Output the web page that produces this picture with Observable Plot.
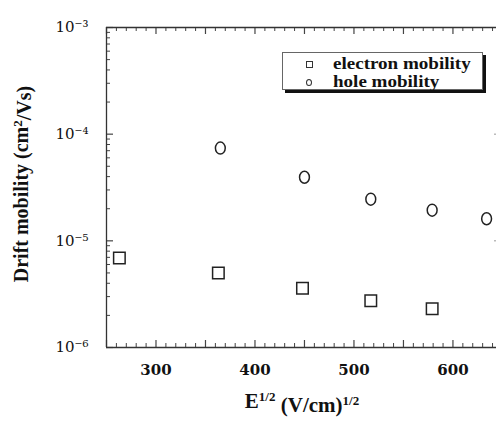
<!DOCTYPE html>
<html>
<head>
<meta charset="utf-8">
<script src="https://cdn.jsdelivr.net/npm/d3@7"></script>
<script src="https://cdn.jsdelivr.net/npm/@observablehq/plot@0.6"></script>
<style>
  html, body { margin: 0; padding: 0; background: #fff; }
  #chart { position: relative; width: 496px; height: 423px; overflow: hidden; }
  .legend {
    position: absolute; left: 282px; top: 52px; width: 199px; height: 36px;
    border: 1px solid #666; box-shadow: 3px 3px 0 #111; background: #fff;
    font: bold 16px "Liberation Serif", serif; color: #111;
  }
  .legend .row { position: absolute; left: 0; width: 100%; height: 18px; line-height: 18px; white-space: nowrap; }
  .legend .sym { position: absolute; box-sizing: border-box; border: 1.2px solid #333; }
  .legend .sq { width: 7px; height: 7px; }
  .legend .ci { width: 6px; height: 7px; border-radius: 50%; }
  .legend .lab { position: absolute; left: 50px; top: 0; display: inline-block; transform: scaleX(1.19); transform-origin: 0 50%; }
</style>
</head>
<body>
<div id="chart"></div>
<script>
// Drift mobility versus square root of the applied field
const fieldElectron = [263, 363, 448, 517, 579];
const mobilityElectron = [6.9e-6, 5.0e-6, 3.6e-6, 2.74e-6, 2.31e-6];
const fieldHole = [365, 450, 517, 579, 634];
const mobilityHole = [7.4e-5, 3.95e-5, 2.46e-5, 1.94e-5, 1.61e-5];
const seriesNames = ["electron mobility", "hole mobility"];

// Axis ticks
const xLabels = [300, 400, 500, 600];
const xMajor = [250, 300, 350, 400, 450, 500, 550, 600];
const xMinor = d3.range(250, 645, 10).filter(v => v % 50 !== 0);
const yDecades = [1e-6, 1e-5, 1e-4, 1e-3];
const yMinor = [1e-6, 1e-5, 1e-4].flatMap(d => [2, 3, 4, 5, 6, 7, 8, 9].map(m => m * d));

const electrons = fieldElectron.map((x, i) => ({x, y: mobilityElectron[i]}));
const holes = fieldHole.map((x, i) => ({x, y: mobilityHole[i]}));

const supMap = {"-": "\u207B", "0": "\u2070", "1": "\u00B9", "2": "\u00B2", "3": "\u00B3",
  "4": "\u2074", "5": "\u2075", "6": "\u2076", "7": "\u2077", "8": "\u2078", "9": "\u2079"};
const pow10 = d => "10" + String(Math.round(Math.log10(d))).split("").map(c => supMap[c]).join("");

// slightly tall open ellipse for the hole markers
const ellipse = {
  draw(ctx, size) {
    const ry = Math.sqrt(size / Math.PI), rx = ry * 0.82, k = 0.5523;
    ctx.moveTo(rx, 0);
    ctx.bezierCurveTo(rx, ry * k, rx * k, ry, 0, ry);
    ctx.bezierCurveTo(-rx * k, ry, -rx, ry * k, -rx, 0);
    ctx.bezierCurveTo(-rx, -ry * k, -rx * k, -ry, 0, -ry);
    ctx.bezierCurveTo(rx * k, -ry, rx, -ry * k, rx, 0);
    ctx.closePath();
  }
};

const W = 496, H = 423, ML = 106, MR = 0, MT = 27, MB = 76;
const innerW = W - ML - MR, innerH = H - MT - MB;
const tickColor = "#444";

const plot = Plot.plot({
  width: W, height: H,
  marginLeft: ML, marginRight: MR, marginTop: MT, marginBottom: MB,
  style: {background: "#fff", fontFamily: "DejaVu Serif", color: "#111"},
  x: {type: "linear", domain: [250, 644]},
  y: {type: "log", domain: [1e-6, 1e-3]},
  marks: [
    // inward ticks, bottom and top
    Plot.tickX(xMinor, {insetTop: innerH - 4, stroke: tickColor, strokeWidth: 1}),
    Plot.tickX(xMajor, {insetTop: innerH - 7, stroke: tickColor, strokeWidth: 1.2}),
    Plot.tickX(xMinor, {insetBottom: innerH - 4, stroke: tickColor, strokeWidth: 1}),
    Plot.tickX(xMajor, {insetBottom: innerH - 7, stroke: tickColor, strokeWidth: 1.2}),
    // inward ticks, left; stubs of the right-hand axis at the clipped edge
    Plot.tickY(yMinor, {insetRight: innerW - 4, stroke: tickColor, strokeWidth: 1}),
    Plot.tickY(yDecades, {insetRight: innerW - 7, stroke: tickColor, strokeWidth: 1.2}),
    Plot.tickY(yDecades, {insetLeft: innerW - 2, stroke: "#999", strokeWidth: 1}),
    // frame lines
    Plot.ruleX([250], {stroke: "#333", strokeWidth: 1.3}),
    Plot.ruleY([1e-6, 1e-3], {stroke: "#333", strokeWidth: 1.3}),
    Plot.axisX(xLabels, {tickSize: 0, tickPadding: 17, label: null, fontSize: 15, fontWeight: "bold", fontFamily: "DejaVu Serif"}),
    Plot.axisY(yDecades, {tickSize: 0, tickPadding: 18, label: null, tickFormat: pow10, fontSize: 15, fontFamily: "DejaVu Serif"}),
    Plot.dot(electrons, {x: "x", y: "y", symbol: "square", r: 6.5, stroke: "#222", strokeWidth: 1.5, fill: "none"}),
    Plot.dot(holes, {x: "x", y: "y", symbol: ellipse, r: 6, stroke: "#222", strokeWidth: 1.5, fill: "none"})
  ]
});

const chart = document.getElementById("chart");
chart.appendChild(plot);

// axis titles with superscripts
const svg = d3.select(plot);
const yTitle = svg.append("text")
  .attr("transform", `translate(28,${MT + innerH / 2 - 3}) rotate(-90)`)
  .attr("text-anchor", "middle")
  .attr("fill", "#111")
  .style("font", "bold 20px 'Liberation Serif', serif");
yTitle.append("tspan").text("Drift mobility (cm");
yTitle.append("tspan").attr("dy", "-0.45em").style("font-size", "13px").text("2");
yTitle.append("tspan").attr("dy", "0.45em").text("/Vs)");

const xTitle = svg.append("text")
  .attr("x", 302).attr("y", 408)
  .attr("text-anchor", "middle")
  .attr("fill", "#111")
  .style("font", "bold 21px 'Liberation Serif', serif");
xTitle.append("tspan").text("E");
xTitle.append("tspan").attr("dy", "-0.55em").style("font-size", "13px").text("1/2");
xTitle.append("tspan").attr("dy", "0.55em").text(" (V/cm)");
xTitle.append("tspan").attr("dy", "-0.55em").style("font-size", "13px").text("1/2");

// legend box
const legend = document.createElement("div");
legend.className = "legend";
seriesNames.forEach((name, i) => {
  const row = document.createElement("div");
  row.className = "row";
  row.style.top = (2 + i * 18) + "px";
  const sym = document.createElement("span");
  sym.className = "sym " + (i === 0 ? "sq" : "ci");
  sym.style.left = "23px";
  sym.style.top = "6px";
  const lab = document.createElement("span");
  lab.className = "lab";
  lab.textContent = name;
  row.appendChild(sym);
  row.appendChild(lab);
  legend.appendChild(row);
});
chart.appendChild(legend);
</script>
</body>
</html>
